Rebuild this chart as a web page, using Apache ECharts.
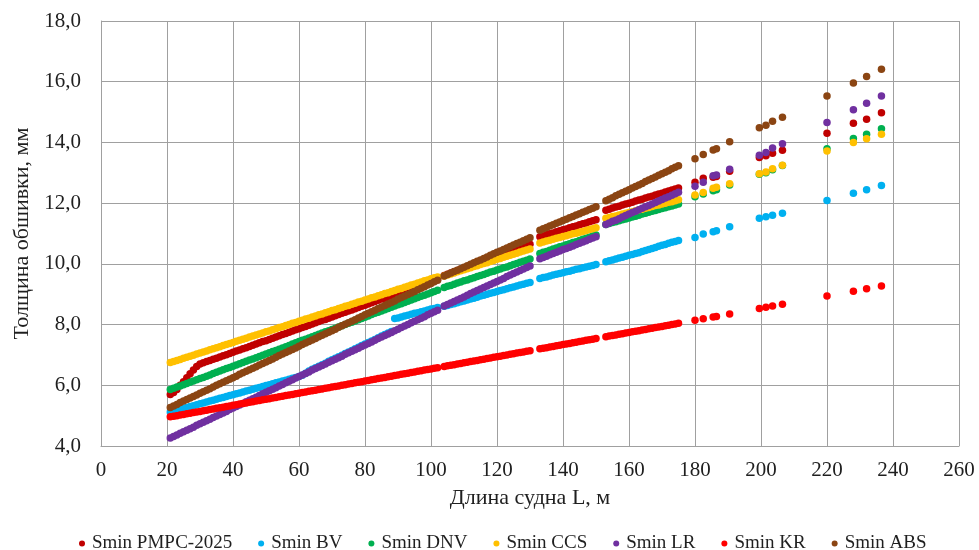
<!DOCTYPE html>
<html>
<head>
<meta charset="utf-8">
<script src="https://cdn.jsdelivr.net/npm/echarts@6/dist/echarts.min.js"></script>
<style>html,body{margin:0;padding:0;background:#fff}#c{width:979px;height:550px}</style>
</head>
<body>
<div id="c"></div>
<script>
// Ship length L, m (x values shared by all series)
const lengths = [
  21,22,23,24,25,26,27,28,29,30, 31,32,33,34,35,36,37,38,39,40,
  41,42,43,44,45,46,47,48,49,50, 51,52,53,54,55,56,57,58,59,60,
  61,62,63,64,65,66,67,68,69,70, 71,72,73,74,75,76,77,78,79,80,
  81,82,83,84,85,86,87,88,89,90, 91,92,93,94,95,96,97,98,99,100,
  101,102,
  104,105,106,107,108,109,110,111,112,113,114,115,116,117,118,119,120,121,122,123,124,125,126,127,128,129,130,
  133,134,135,136,137,138,139,140,141,142,143,144,145,146,147,148,149,150,
  153,154,155,156,157,158,159,160,161,162,163,164,165,166,167,168,169,170,171,172,173,174,175,
  180,182.5,185.5,186.5,190.5,199.5,201.5,203.5,206.5,220,228,232,236.5
];

const seriesNames = ['Smin РМРС-2025','Smin BV','Smin DNV','Smin CCS','Smin LR','Smin KR','Smin ABS'];

const sPMPC = [
  5.70,5.76,5.86,6.00,6.12,6.25,6.38,6.50,6.62,6.70, 6.74,6.78,6.82,6.86,6.89,6.93,6.97,7.01,7.05,7.09,
  7.13,7.16,7.20,7.24,7.28,7.32,7.36,7.40,7.44,7.47, 7.51,7.55,7.59,7.63,7.67,7.71,7.75,7.79,7.83,7.86,
  7.90,7.94,7.98,8.02,8.06,8.10,8.14,8.17,8.21,8.25, 8.29,8.33,8.37,8.41,8.45,8.48,8.52,8.56,8.60,8.64,
  8.68,8.72,8.76,8.80,8.84,8.87,8.91,8.95,8.99,9.03, 9.07,9.11,9.15,9.18,9.22,9.26,9.30,9.34,9.38,9.42,
  9.46,9.49,
  9.62,9.66,9.70,9.74,9.78,9.82,9.86,9.90,9.94,9.98,10.02,10.05,10.09,10.13,10.17,10.21,10.25,10.29,10.33,10.37,10.41,10.45,10.49,10.53,10.57,10.61,10.65,
  10.89,10.92,10.96,10.99,11.02,11.06,11.09,11.12,11.15,11.19,11.22,11.25,11.29,11.32,11.35,11.39,11.42,11.45,
  11.77,11.80,11.84,11.87,11.90,11.94,11.97,12.00,12.03,12.07,12.10,12.13,12.17,12.20,12.23,12.27,12.30,12.33,12.37,12.40,12.43,12.47,12.50,
  12.69,12.82,12.85,12.88,13.05,13.50,13.56,13.64,13.74,14.30,14.63,14.76,14.98
];
const sBV = [
  5.12,5.15,5.18,5.21,5.24,5.27,5.30,5.33,5.36,5.39, 5.42,5.45,5.48,5.51,5.54,5.57,5.60,5.63,5.66,5.69,
  5.72,5.75,5.78,5.81,5.84,5.87,5.90,5.93,5.96,5.99, 6.02,6.05,6.08,6.11,6.14,6.17,6.20,6.23,6.26,6.29,
  6.33,6.40,6.47,6.53,6.58,6.63,6.68,6.73,6.79,6.84, 6.89,6.94,6.99,7.05,7.10,7.15,7.20,7.25,7.31,7.36,
  7.41,7.46,7.51,7.57,7.62,7.67,7.72,7.77,8.20,8.22, 8.25,8.28,8.31,8.34,8.37,8.39,8.42,8.45,8.48,8.51,
  8.53,8.56,
  8.60,8.63,8.66,8.69,8.72,8.75,8.78,8.81,8.84,8.87,8.90,8.94,8.97,9.00,9.03,9.06,9.09,9.12,9.15,9.18,9.21,9.24,9.27,9.30,9.33,9.36,9.39,
  9.52,9.55,9.57,9.60,9.63,9.66,9.68,9.71,9.74,9.76,9.79,9.82,9.84,9.87,9.90,9.92,9.95,9.98,
  10.07,10.10,10.13,10.16,10.19,10.22,10.25,10.28,10.31,10.34,10.37,10.41,10.44,10.47,10.51,10.54,10.58,10.61,10.64,10.68,10.71,10.74,10.77,
  10.87,10.98,11.06,11.09,11.22,11.50,11.55,11.60,11.67,12.09,12.33,12.44,12.58
];
const sDNV = [
  5.86,5.90,5.94,5.98,6.02,6.06,6.10,6.14,6.18,6.22, 6.26,6.30,6.34,6.39,6.43,6.47,6.51,6.55,6.59,6.63,
  6.67,6.71,6.75,6.79,6.83,6.87,6.91,6.95,6.99,7.03, 7.07,7.11,7.15,7.19,7.23,7.27,7.31,7.36,7.40,7.44,
  7.48,7.52,7.56,7.60,7.64,7.68,7.72,7.76,7.80,7.84, 7.88,7.92,7.96,8.00,8.04,8.08,8.12,8.16,8.20,8.24,
  8.28,8.33,8.37,8.41,8.45,8.49,8.53,8.57,8.61,8.65, 8.69,8.73,8.77,8.81,8.85,8.89,8.93,8.97,9.01,9.05,
  9.09,9.13,
  9.22,9.26,9.29,9.33,9.37,9.40,9.44,9.47,9.51,9.54,9.58,9.62,9.65,9.69,9.73,9.76,9.80,9.83,9.87,9.90,9.94,9.98,10.01,10.05,10.09,10.12,10.16,
  10.34,10.38,10.41,10.45,10.49,10.52,10.56,10.59,10.63,10.66,10.70,10.73,10.77,10.81,10.84,10.88,10.92,10.95,
  11.30,11.33,11.36,11.39,11.42,11.45,11.48,11.51,11.54,11.57,11.60,11.64,11.67,11.70,11.73,11.76,11.79,11.82,11.85,11.88,11.91,11.94,11.97,
  12.21,12.30,12.41,12.44,12.60,12.95,13.00,13.10,13.24,13.79,14.13,14.27,14.45
];
const sCCS = [
  6.75,6.78,6.82,6.85,6.89,6.92,6.96,6.99,7.03,7.06, 7.10,7.13,7.17,7.20,7.24,7.27,7.31,7.34,7.38,7.41,
  7.45,7.48,7.52,7.55,7.59,7.62,7.66,7.69,7.72,7.76, 7.79,7.83,7.86,7.90,7.93,7.97,8.00,8.04,8.07,8.11,
  8.14,8.18,8.21,8.25,8.28,8.32,8.35,8.39,8.42,8.46, 8.49,8.53,8.56,8.60,8.63,8.67,8.70,8.74,8.77,8.81,
  8.84,8.88,8.91,8.95,8.98,9.02,9.05,9.09,9.12,9.16, 9.19,9.23,9.26,9.30,9.33,9.37,9.40,9.44,9.47,9.51,
  9.54,9.57,
  9.60,9.63,9.67,9.70,9.74,9.77,9.81,9.84,9.87,9.91,9.94,9.98,10.01,10.04,10.08,10.11,10.15,10.18,10.22,10.25,10.28,10.32,10.35,10.39,10.42,10.46,10.49,
  10.69,10.72,10.75,10.78,10.81,10.84,10.87,10.90,10.93,10.96,10.99,11.01,11.04,11.07,11.10,11.13,11.16,11.19,
  11.50,11.53,11.56,11.58,11.61,11.64,11.67,11.69,11.72,11.75,11.78,11.80,11.83,11.86,11.89,11.92,11.94,11.97,12.00,12.03,12.05,12.08,12.11,
  12.27,12.35,12.49,12.52,12.64,12.97,13.03,13.13,13.25,13.72,14.00,14.12,14.27
];
const sLR = [
  4.26,4.31,4.36,4.42,4.47,4.52,4.57,4.62,4.68,4.73, 4.78,4.83,4.88,4.94,4.99,5.04,5.09,5.14,5.20,5.25,
  5.30,5.35,5.40,5.46,5.51,5.56,5.61,5.66,5.72,5.77, 5.82,5.87,5.92,5.98,6.03,6.08,6.13,6.18,6.24,6.29,
  6.34,6.39,6.44,6.50,6.55,6.60,6.65,6.70,6.76,6.81, 6.86,6.91,6.96,7.02,7.07,7.12,7.17,7.22,7.28,7.33,
  7.38,7.43,7.48,7.54,7.59,7.64,7.69,7.74,7.80,7.85, 7.90,7.95,8.00,8.06,8.11,8.16,8.21,8.26,8.32,8.37,
  8.42,8.47,
  8.61,8.66,8.71,8.76,8.81,8.86,8.91,8.97,9.02,9.07,9.12,9.17,9.22,9.27,9.32,9.37,9.42,9.47,9.52,9.58,9.63,9.68,9.73,9.78,9.83,9.88,9.93,
  10.17,10.21,10.25,10.30,10.34,10.38,10.42,10.47,10.51,10.55,10.59,10.64,10.68,10.72,10.76,10.81,10.85,10.89,
  11.30,11.35,11.40,11.44,11.49,11.54,11.59,11.64,11.69,11.73,11.78,11.83,11.88,11.92,11.97,12.02,12.07,12.12,12.17,12.21,12.26,12.31,12.36,
  12.56,12.69,12.90,12.93,13.12,13.58,13.67,13.82,13.96,14.66,15.08,15.29,15.53
];
const sKR = [
  4.96,4.98,5.00,5.02,5.04,5.06,5.08,5.10,5.12,5.14, 5.16,5.18,5.20,5.22,5.24,5.26,5.28,5.30,5.32,5.34,
  5.36,5.38,5.40,5.42,5.44,5.46,5.48,5.50,5.52,5.54, 5.56,5.58,5.60,5.62,5.64,5.66,5.68,5.70,5.72,5.74,
  5.76,5.78,5.80,5.82,5.84,5.86,5.88,5.90,5.92,5.94, 5.96,5.98,6.00,6.02,6.04,6.06,6.08,6.10,6.12,6.14,
  6.16,6.18,6.20,6.22,6.24,6.26,6.28,6.30,6.32,6.34, 6.36,6.38,6.40,6.42,6.44,6.46,6.48,6.50,6.52,6.54,
  6.56,6.58,
  6.62,6.64,6.66,6.68,6.70,6.72,6.74,6.76,6.78,6.80,6.82,6.84,6.86,6.88,6.90,6.92,6.94,6.96,6.98,7.00,7.02,7.04,7.06,7.08,7.10,7.12,7.14,
  7.20,7.22,7.24,7.26,7.28,7.30,7.32,7.34,7.36,7.38,7.40,7.42,7.44,7.46,7.48,7.50,7.52,7.54,
  7.60,7.62,7.64,7.66,7.68,7.70,7.72,7.74,7.76,7.78,7.80,7.82,7.84,7.86,7.88,7.90,7.92,7.94,7.96,7.98,8.00,8.02,8.04,
  8.14,8.19,8.25,8.27,8.35,8.53,8.57,8.61,8.67,8.94,9.10,9.18,9.27
];
const sABS = [
  5.27,5.32,5.37,5.43,5.48,5.53,5.58,5.63,5.68,5.74, 5.79,5.84,5.89,5.94,6.00,6.05,6.10,6.15,6.20,6.25,
  6.30,6.36,6.41,6.46,6.51,6.56,6.61,6.67,6.72,6.77, 6.82,6.87,6.92,6.98,7.03,7.08,7.13,7.18,7.23,7.29,
  7.34,7.39,7.44,7.49,7.54,7.60,7.65,7.70,7.75,7.80, 7.85,7.91,7.96,8.01,8.06,8.11,8.16,8.22,8.27,8.32,
  8.37,8.42,8.47,8.53,8.58,8.63,8.68,8.73,8.78,8.84, 8.89,8.94,8.99,9.04,9.09,9.15,9.20,9.25,9.30,9.35,
  9.41,9.46,
  9.60,9.65,9.70,9.75,9.79,9.84,9.89,9.94,9.99,10.04,10.09,10.13,10.18,10.23,10.28,10.33,10.38,10.42,10.47,10.52,10.57,10.62,10.67,10.71,10.76,10.81,10.86,
  11.11,11.16,11.20,11.25,11.29,11.34,11.38,11.43,11.47,11.52,11.56,11.61,11.65,11.70,11.74,11.79,11.83,11.88,
  12.08,12.13,12.18,12.24,12.29,12.34,12.39,12.44,12.50,12.55,12.60,12.65,12.71,12.76,12.81,12.86,12.92,12.97,13.02,13.07,13.13,13.18,13.23,
  13.46,13.60,13.75,13.79,14.02,14.48,14.57,14.70,14.83,15.53,15.96,16.17,16.41
];

const xTickLabels = ['0','20','40','60','80','100','120','140','160','180','200','220','240','260'];
const yTickLabels = ['4,0','6,0','8,0','10,0','12,0','14,0','16,0','18,0'];

const colors = ['#C00000','#00B0F0','#00B050','#FFC000','#7030A0','#FF0000','#8B4513'];
const allValues = [sPMPC, sBV, sDNV, sCCS, sLR, sKR, sABS];

const FONT = '"Liberation Serif", "Times New Roman", serif';
const TXT = '#1f1f1f';

const chart = echarts.init(document.getElementById('c'), null, {renderer: 'canvas'});
chart.setOption({
  animation: false,
  backgroundColor: '#ffffff',
  color: colors,
  grid: {left: 101, right: 20, top: 21, bottom: 104, containLabel: false},
  legend: {
    data: seriesNames,
    top: 529,
    left: 74,
    icon: 'circle',
    itemWidth: 6,
    itemHeight: 6,
    itemGap: 26,
    textStyle: {fontFamily: FONT, fontSize: 19, color: TXT, padding: [0, 0, 0, 2]}
  },
  xAxis: {
    type: 'value',
    min: 0, max: 260, interval: 20,
    name: 'Длина судна L, м',
    nameLocation: 'middle',
    nameGap: 41,
    nameTextStyle: {fontFamily: FONT, fontSize: 22, color: TXT},
    axisLine: {show: true, lineStyle: {color: '#a0a0a0', width: 1}},
    axisTick: {show: false},
    axisLabel: {
      fontFamily: FONT, fontSize: 21, color: TXT, margin: 14,
      formatter: v => xTickLabels[Math.round(v / 20)]
    },
    splitLine: {show: true, lineStyle: {color: '#a0a0a0', width: 1}}
  },
  yAxis: {
    type: 'value',
    min: 4, max: 18, interval: 2,
    name: 'Толщина обшивки, мм',
    nameLocation: 'middle',
    nameGap: 68,
    nameTextStyle: {fontFamily: FONT, fontSize: 22, color: TXT},
    axisLine: {show: true, lineStyle: {color: '#a0a0a0', width: 1}},
    axisTick: {show: false},
    axisLabel: {
      fontFamily: FONT, fontSize: 21, color: TXT, margin: 20,
      formatter: v => yTickLabels[Math.round((v - 4) / 2)]
    },
    splitLine: {show: true, lineStyle: {color: '#a0a0a0', width: 1}}
  },
  series: seriesNames.map((name, k) => ({
    name: name,
    type: 'scatter',
    symbol: 'circle',
    symbolSize: 7.5,
    itemStyle: {color: colors[k], opacity: 1},
    emphasis: {disabled: true},
    data: lengths.map((x, i) => [x, allValues[k][i]])
  }))
});
</script>
</body>
</html>
